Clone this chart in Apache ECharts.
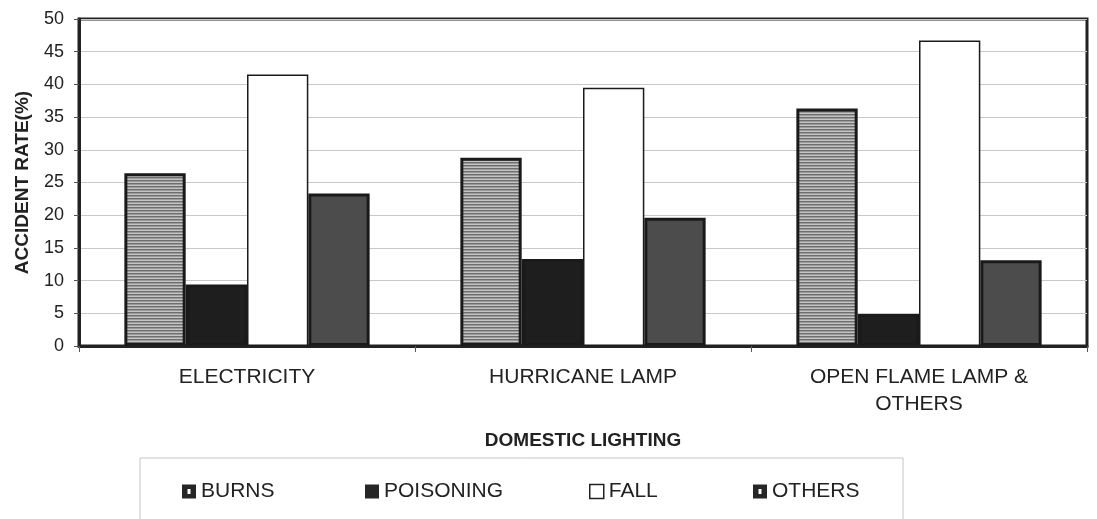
<!DOCTYPE html>
<html>
<head>
<meta charset="utf-8">
<script src="https://cdn.jsdelivr.net/npm/echarts@6/dist/echarts.min.js"></script>
<style>
  html, body { margin: 0; padding: 0; background: #fff; }
  #chart { width: 1097px; height: 519px; }
</style>
</head>
<body>
<div id="chart"></div>
<script>
// Accident rate (%) by type of domestic lighting
const categories = ['ELECTRICITY', 'HURRICANE LAMP', 'OPEN FLAME LAMP &\nOTHERS'];
const seriesNames = ['BURNS', 'POISONING', 'FALL', 'OTHERS'];
const burns = [26.4, 28.8, 36.3];
const poisoning = [9.4, 13.3, 4.9];
const fall = [41.5, 39.5, 46.7];
const others = [23.3, 19.6, 13.1];
const yTicks = { min: 0, max: 50, step: 5 };

// Fine horizontal stripe fill for the BURNS bars
function stripePattern() {
  const c = document.createElement('canvas');
  c.width = 4; c.height = 3;
  const g = c.getContext('2d');
  g.fillStyle = '#c4c4c4'; g.fillRect(0, 0, 4, 3);
  g.fillStyle = '#6e6e6e'; g.fillRect(0, 0, 4, 1);
  g.fillStyle = '#9a9a9a'; g.fillRect(0, 1, 4, 1);
  return c;
}

const FONT = '"Liberation Sans", Arial, sans-serif';
const edge = '#1a1a1a';

const styles = [
  { color: { image: stripePattern(), repeat: 'repeat' }, borderColor: edge, borderWidth: 3 },
  { color: '#1e1e1e', borderColor: edge, borderWidth: 3 },
  { color: '#ffffff', borderColor: edge, borderWidth: 1.5 },
  { color: '#4c4c4c', borderColor: edge, borderWidth: 3 }
];
const values = [burns, poisoning, fall, others];

// legend swatches: dark square with a small light centre, solid, or outlined
const holeIcon = 'path://M0,0H14V14H0Z M5.5,4.5V9.5H8.5V4.5Z';
const legendIcons = [holeIcon, 'rect', 'rect', holeIcon];
const legendSwatch = [
  { color: '#262626', borderWidth: 0 },
  { color: '#262626', borderWidth: 0 },
  { color: '#ffffff', borderColor: '#222', borderWidth: 1.5 },
  { color: '#262626', borderWidth: 0 }
];

const chart = echarts.init(document.getElementById('chart'), null, { renderer: 'canvas' });

const legendLeft = [177, 360, 584, 748];

chart.setOption({
  animation: false,
  backgroundColor: '#ffffff',
  textStyle: { fontFamily: FONT },
  grid: {
    left: 79, right: 10, top: 19, bottom: 173,
    show: true, borderColor: '#222', borderWidth: 3, backgroundColor: 'transparent'
  },
  graphic: [{
    type: 'rect',
    shape: { x: 140, y: 458, width: 763, height: 80 },
    style: { fill: 'none', stroke: '#c4c4c4', lineWidth: 1 },
    silent: true
  }],
  legend: seriesNames.map((n, i) => ({
    data: [n],
    left: legendLeft[i],
    top: 476,
    icon: legendIcons[i],
    itemWidth: 14,
    itemHeight: 14,
    selectedMode: false,
    textStyle: { fontFamily: FONT, fontSize: 21, color: '#222' },
    itemStyle: legendSwatch[i]
  })),
  xAxis: {
    type: 'category',
    data: categories,
    name: 'DOMESTIC LIGHTING',
    nameLocation: 'middle',
    nameGap: 85,
    nameTextStyle: { fontFamily: FONT, fontSize: 19, fontWeight: 'bold', color: '#222' },
    axisLine: { show: true, lineStyle: { color: '#222', width: 3 } },
    axisTick: { show: true, length: 6, lineStyle: { color: '#555', width: 1 } },
    axisLabel: {
      fontFamily: FONT, fontSize: 21, color: '#222', margin: 18, lineHeight: 27
    },
    splitLine: { show: false }
  },
  yAxis: {
    type: 'value',
    min: yTicks.min,
    max: yTicks.max,
    interval: yTicks.step,
    name: 'ACCIDENT RATE(%)',
    nameLocation: 'middle',
    nameRotate: 90,
    nameGap: 47,
    nameTextStyle: { fontFamily: FONT, fontSize: 19, fontWeight: 'bold', color: '#222' },
    axisLine: { show: true, lineStyle: { color: '#222', width: 3 } },
    axisTick: { show: true, length: 5, lineStyle: { color: '#555', width: 1 } },
    axisLabel: { fontFamily: FONT, fontSize: 18, color: '#222', margin: 15 },
    splitLine: { show: true, lineStyle: { color: '#c8c8c8', width: 1 } }
  },
  series: seriesNames.map((n, i) => ({
    name: n,
    type: 'bar',
    data: values[i],
    barGap: '0%',
    barCategoryGap: '27%',
    itemStyle: styles[i]
  }))
});
</script>
</body>
</html>
